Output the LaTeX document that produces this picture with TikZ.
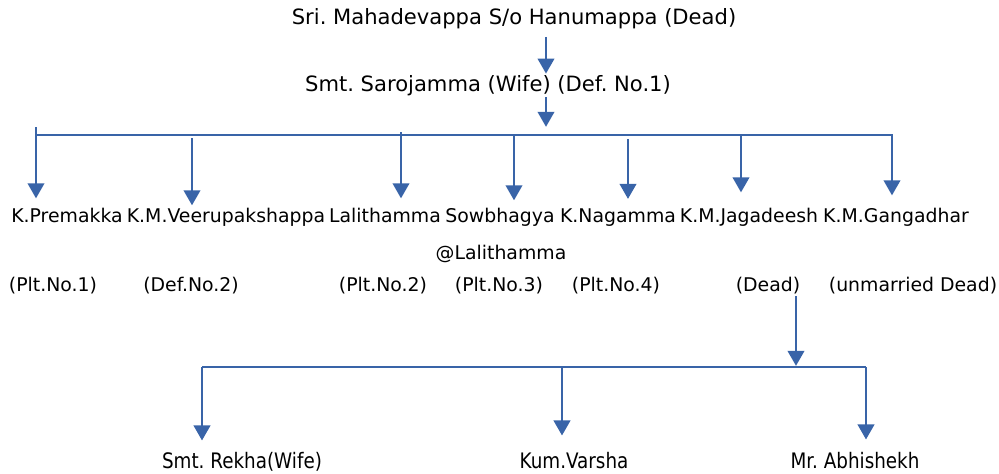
\documentclass[tikz,border=0pt]{standalone}
\usepackage{fontspec}
\setmainfont{DejaVu Sans}
\newfontfamily\narrowfont[FakeStretch=0.86]{DejaVu Sans}
\usetikzlibrary{arrows.meta,positioning}
\definecolor{linkblue}{RGB}{57,100,168}
\frenchspacing

\begin{document}
\begin{tikzpicture}[
    x=0.03cm,y=-0.03cm,
    parent/.style={anchor=base,inner sep=1pt,font=\fontsize{18pt}{21pt}\selectfont},
    child/.style={anchor=base,inner sep=1pt,font=\fontsize{16.1pt}{19pt}\selectfont},
    grand/.style={anchor=base,inner sep=1pt,font=\narrowfont\fontsize{18.2pt}{21pt}\selectfont},
    bar/.style={draw=linkblue,line width=1.6pt},
    arrow/.style={bar,-{Triangle[length=0.45cm,width=0.5cm]}}
]
\useasboundingbox (0,0) rectangle (999,474);

%--- Parents ---%
\node[parent] (sri) at (514,24) {Sri. Mahadevappa S/o Hanumappa (Dead)};
\node[parent] (saro) at (488,91) {Smt. Sarojamma (Wife) (Def. No.1)};

%--- Children: names, second line, notes ---%
\node[child] (premakka) at (67,222) {K.Premakka};
\node[child] (veeru) at (226,222) {K.M.Veerupakshappa};
\node[child] (lalitha) at (385,222) {Lalithamma};
\node[child] (sowbh) at (500,222) {Sowbhagya};
\node[child] (naga) at (618,222) {K.Nagamma};
\node[child] (jaga) at (749,222) {K.M.Jagadeesh};
\node[child] (ganga) at (896,222) {K.M.Gangadhar};
\node[child] (alias) at (501,259) {@Lalithamma};

\node[child] (premakka-note) at (53,291) {(Plt.No.1)};
\node[child] (veeru-note) at (191,291) {(Def.No.2)};
\node[child] (lalitha-note) at (383,291) {(Plt.No.2)};
\node[child] (sowbh-note) at (499,291) {(Plt.No.3)};
\node[child] (naga-note) at (616,291) {(Plt.No.4)};
\node[child] (jaga-note) at (768,291) {(Dead)};
\node[child] (ganga-note) at (913,291) {(unmarried Dead)};

%--- Grandchildren ---%
\node[grand] (rekha) at (242,468) {Smt. Rekha(Wife)};
\node[grand] (varsha) at (574,468) {Kum.Varsha};
\node[grand] (abhi) at (855,468) {Mr. Abhishekh};

%--- Top links ---%
\coordinate (split) at (546,135);
\draw[arrow,shorten <=6pt] (sri.south -| split) -- (saro.north -| split);
\draw[arrow,shorten >=7pt] (saro.south -| split) -- (split);
\draw[bar] (36,135) -- (893,135);

% branches down to each child
\foreach \who/\x/\top/\gap in {premakka/36/127/8, veeru/192/138/1, lalitha/401/132/8,
    sowbh/514/135/6, naga/628/139/8, jaga/741/135/14, ganga/892/135/11}{
  \coordinate (\who-top) at (\x,\top);
  \draw[arrow,shorten >=\gap*0.85pt] (\who-top) -- (\who.north -| \who-top);
}

%--- Jagadeesh's family ---%
\coordinate (split2) at (796,367);
\draw[arrow,shorten <=1pt,shorten >=1pt] (jaga-note.south -| split2) -- (split2);
\draw[bar] (202,367) -- (866,367);
\foreach \who/\x/\gap in {rekha/202/10, varsha/562/15, abhi/866/11}{
  \coordinate (\who-top) at (\x,367);
  \draw[arrow,shorten >=\gap*0.85pt] (\who-top) -- (\who.north -| \who-top);
}

\end{tikzpicture}
\end{document}
